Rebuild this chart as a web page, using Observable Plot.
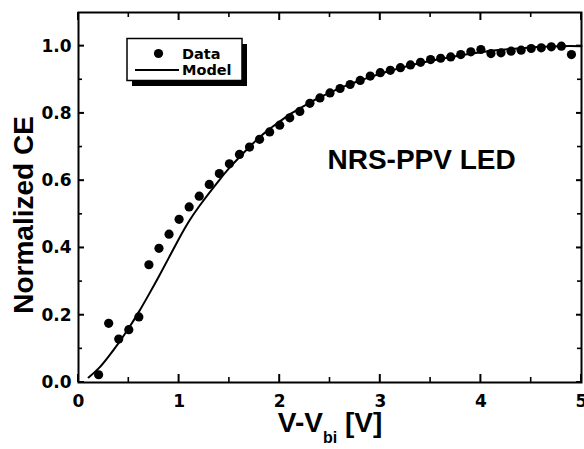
<!DOCTYPE html>
<html>
<head>
<meta charset="utf-8">
<script src="https://cdn.jsdelivr.net/npm/d3@7"></script>
<script src="https://cdn.jsdelivr.net/npm/@observablehq/plot@0.6"></script>
<style>
  html, body { margin: 0; padding: 0; background: #fff; }
  #chart svg { display: block; }
</style>
</head>
<body>
<div id="chart"></div>
<script>
// ---- data ----
const dataV = [0.2, 0.3, 0.4, 0.5, 0.6, 0.7, 0.8, 0.9, 1.0, 1.1, 1.2, 1.3, 1.4, 1.5, 1.6, 1.7, 1.8, 1.9, 2.0,
  2.1, 2.2, 2.3, 2.4, 2.5, 2.6, 2.7, 2.8, 2.9, 3.0, 3.1, 3.2, 3.3, 3.4, 3.5, 3.6, 3.7, 3.8, 3.9, 4.0,
  4.1, 4.2, 4.3, 4.4, 4.5, 4.6, 4.7, 4.8, 4.9];
const dataCE = [0.023, 0.176, 0.129, 0.157, 0.195, 0.350, 0.399, 0.441, 0.485, 0.522, 0.554, 0.589, 0.621, 0.650, 0.678, 0.700, 0.723, 0.745, 0.765,
  0.787, 0.806, 0.830, 0.846, 0.861, 0.874, 0.886, 0.898, 0.911, 0.921, 0.928, 0.936, 0.944, 0.952, 0.960, 0.964, 0.968, 0.975, 0.983, 0.990,
  0.978, 0.980, 0.985, 0.988, 0.993, 0.995, 0.998, 1.000, 0.975];

const modelV = [0.1, 0.2, 0.3, 0.4, 0.5, 0.6, 0.7, 0.8, 0.9, 1.0, 1.1, 1.2, 1.3, 1.4, 1.5, 1.6, 1.7, 1.8, 1.9, 2.0,
  2.1, 2.2, 2.3, 2.4, 2.5, 2.6, 2.7, 2.8, 2.9, 3.0, 3.2, 3.4, 3.6, 3.8, 4.0, 4.2, 4.4, 4.6, 4.8, 5.0];
const modelCE = [0.015, 0.042, 0.078, 0.118, 0.162, 0.210, 0.262, 0.316, 0.372, 0.428, 0.480, 0.524, 0.564, 0.602, 0.638, 0.670, 0.701, 0.729, 0.754, 0.776,
  0.797, 0.815, 0.832, 0.848, 0.862, 0.875, 0.887, 0.898, 0.908, 0.918, 0.935, 0.950, 0.962, 0.973, 0.982, 0.989, 0.994, 0.998, 1.000, 1.000];

const xMajor = [0, 1, 2, 3, 4, 5];
const xMinor = [0.5, 1.5, 2.5, 3.5, 4.5];
const yMajor = [0, 0.2, 0.4, 0.6, 0.8, 1.0];
const yMinor = [0.1, 0.3, 0.5, 0.7, 0.9];
const xTickLabels = ["0", "1", "2", "3", "4", "5"];
const yTickLabels = ["0.0", "0.2", "0.4", "0.6", "0.8", "1.0"];

const yTitle = "Normalized CE";
const xTitleParts = ["V-V", "bi", " [V]"];
const annotation = "NRS-PPV LED";
const legendLabels = ["Data", "Model"];

// ---- layout ----
const W = 584, H = 449;
const mL = 78, mR = 3, mT = 12, mB = 67;

const points = dataV.map((v, i) => ({v, ce: dataCE[i]}));
const model = modelV.map((v, i) => ({v, ce: modelCE[i]}));

const chart = Plot.plot({
  width: W, height: H,
  marginLeft: mL, marginRight: mR, marginTop: mT, marginBottom: mB,
  style: {fontFamily: "'DejaVu Sans', sans-serif", fontSize: "17px", fontWeight: "bold", background: "#fff", color: "#000"},
  x: {domain: [0, 5], label: null},
  y: {domain: [0, 1.1], label: null},
  marks: [
    Plot.axisX(xMajor, {tickSize: 0, tickPadding: 12, tickFormat: (d, i) => xTickLabels[i], label: null}),
    Plot.axisY(yMajor, {tickSize: 0, tickPadding: 7, tickFormat: (d, i) => yTickLabels[i], label: null}),
    Plot.line(model, {x: "v", y: "ce", curve: "natural", stroke: "#000", strokeWidth: 2}),
    Plot.dot(points, {x: "v", y: "ce", r: 4.6, fill: "#000", stroke: "none"}),
    Plot.text([annotation], {text: d => d, frameAnchor: "top-left", dx: 249, dy: 156,
      textAnchor: "start", lineAnchor: "bottom", fontSize: 28, fontWeight: "bold",
      fontFamily: "'Liberation Sans', Arial, sans-serif", fill: "#000"}),
    Plot.frame({stroke: "#000", strokeWidth: 2})
  ]
});

document.getElementById("chart").appendChild(chart);

const svg = d3.select(chart);

// ---- inward ticks on all four sides, positioned with Plot's own scales ----
const sx = chart.scale("x"), sy = chart.scale("y");
const fx = v => sx.apply ? sx.apply(v) : sx.range[0] + (v - sx.domain[0]) / (sx.domain[1] - sx.domain[0]) * (sx.range[1] - sx.range[0]);
const fy = v => sy.apply ? sy.apply(v) : sy.range[0] + (v - sy.domain[0]) / (sy.domain[1] - sy.domain[0]) * (sy.range[1] - sy.range[0]);
const x0 = fx(0), x1 = fx(5), y0 = fy(0), y1 = fy(1.1);
const tg = svg.append("g").attr("stroke", "#000").attr("fill", "none");
function vt(list, len, w) {
  list.forEach(v => {
    const X = fx(v);
    tg.append("line").attr("x1", X).attr("x2", X).attr("y1", y0).attr("y2", y0 - len).attr("stroke-width", w);
    tg.append("line").attr("x1", X).attr("x2", X).attr("y1", y1).attr("y2", y1 + len).attr("stroke-width", w);
  });
}
function ht(list, lenL, lenR, w) {
  list.forEach(v => {
    const Y = fy(v);
    tg.append("line").attr("x1", x0).attr("x2", x0 + lenL).attr("y1", Y).attr("y2", Y).attr("stroke-width", w);
    tg.append("line").attr("x1", x1).attr("x2", x1 - lenR).attr("y1", Y).attr("y2", Y).attr("stroke-width", w);
  });
}
vt(xMajor, 8, 2);
vt(xMinor, 5, 1.6);
ht(yMajor, 6, 5, 2);
ht(yMinor, 4, 4, 1.6);

// ---- titles ----
const titleFont = "'Liberation Sans', Arial, sans-serif";
svg.append("text")
  .attr("transform", "translate(33,215) rotate(-90)")
  .attr("text-anchor", "middle")
  .attr("font-family", titleFont).attr("font-size", 28).attr("font-weight", "bold")
  .attr("fill", "#000")
  .text(yTitle);

const xt = svg.append("text")
  .attr("x", 330).attr("y", 432)
  .attr("text-anchor", "middle")
  .attr("font-family", titleFont).attr("font-size", 28).attr("font-weight", "bold")
  .attr("fill", "#000");
xt.append("tspan").text(xTitleParts[0]);
xt.append("tspan").attr("font-size", 16).attr("dy", 11).text(xTitleParts[1]);
xt.append("tspan").attr("dy", -11).text(xTitleParts[2]);

// ---- legend box with shadow ----
const lg = svg.append("g").attr("text-anchor", "start");
lg.append("rect").attr("x", 132).attr("y", 44).attr("width", 115).attr("height", 42).attr("fill", "#000");
lg.append("rect").attr("x", 127).attr("y", 38.5).attr("width", 115).attr("height", 42)
  .attr("fill", "#fff").attr("stroke", "#000").attr("stroke-width", 1.5);
lg.append("circle").attr("cx", 158.5).attr("cy", 53.5).attr("r", 4.6).attr("fill", "#000");
lg.append("line").attr("x1", 135).attr("x2", 179).attr("y1", 70).attr("y2", 70)
  .attr("stroke", "#000").attr("stroke-width", 2);
lg.append("text").attr("x", 182).attr("y", 53.5).attr("dy", "0.36em").attr("text-anchor", "start")
  .attr("font-family", "'DejaVu Sans', sans-serif").attr("font-size", 14.5).attr("font-weight", "bold")
  .attr("fill", "#000")
  .text(legendLabels[0]);
lg.append("text").attr("x", 182).attr("y", 70).attr("dy", "0.36em").attr("text-anchor", "start")
  .attr("font-family", "'DejaVu Sans', sans-serif").attr("font-size", 14.5).attr("font-weight", "bold")
  .attr("fill", "#000")
  .text(legendLabels[1]);
</script>
</body>
</html>
